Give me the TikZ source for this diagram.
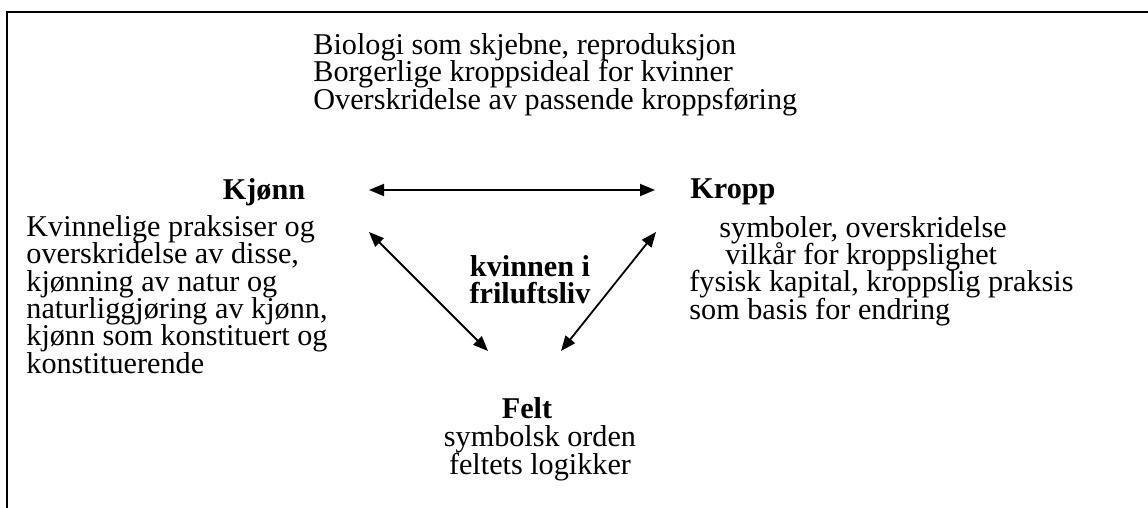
\documentclass[tikz,border=0pt]{standalone}
\usepackage{fontspec}
\setmainfont{Liberation Serif}
\usetikzlibrary{positioning}
\usetikzlibrary{arrows.meta}
\setlength{\lineskiplimit}{-20pt}

\begin{document}
\begin{tikzpicture}[x=0.5pt,y=-0.5pt,
  txt/.style={inner sep=0pt,align=left,font=\fontsize{15.1}{13.7}\selectfont},
  head/.style={txt,font=\fontsize{15.1}{13.7}\selectfont\bfseries},
  arr/.style={{Triangle[length=7.5pt,width=6pt]}-{Triangle[length=7.5pt,width=6pt]},line width=0.9pt}]
  \useasboundingbox (0,0) rectangle (1148,508);
  \draw[line width=1.25pt] (7,508) -- (7,12) -- (1148,12);

  \node[txt,anchor=north west] (biologi) at (313,33)
    {Biologi som skjebne, reproduksjon\\
     Borgerlige kroppsideal for kvinner\\
     Overskridelse av passende kroppsføring};

  \node[head,anchor=north] (kjonn) at (264,178) {Kjønn};
  \node[head,anchor=north west] (kropp) at (690,178) {Kropp};
  \node[head,anchor=north,align=center] (kvinnen) at (530,255) {kvinnen i\\friluftsliv};
  \node[head,anchor=north] (felt) at (527,397) {Felt};

  \node[txt,anchor=north west] (kjonntxt) at (26,215)
    {Kvinnelige praksiser og\\
     overskridelse av disse,\\
     kjønning av natur og\\
     naturliggjøring av kjønn,\\
     kjønn som konstituert og\\
     konstituerende};
  \node[txt,below=5.4pt of kropp.south west,anchor=north west,xshift=-0.5pt] (kropptxt)
    {\hspace*{15pt}symboler, overskridelse\\
     \hspace*{18pt}vilkår for kroppslighet\\
     fysisk kapital, kroppslig praksis\\
     som basis for endring};
  \node[txt,below=3.1pt of felt,xshift=6.5pt,align=center] (felttxt)
    {symbolsk orden\\feltets logikker};

  \coordinate (kj1) at (369,190);
  \coordinate (kr1) at (655,190);
  \coordinate (kj2) at (369,232);
  \coordinate (kr2) at (656,232);
  \coordinate (fe1) at (488,351);
  \coordinate (fe2) at (561,351);
  \path[arr]
    (kj1) edge (kr1)
    (kj2) edge (fe1)
    (kr2) edge (fe2);
\end{tikzpicture}
\end{document}
